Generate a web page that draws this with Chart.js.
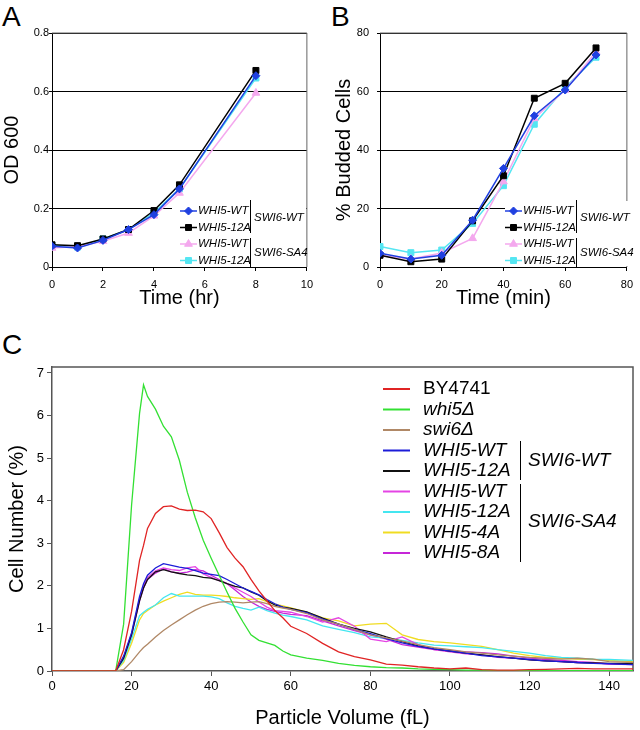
<!DOCTYPE html>
<html>
<head>
<meta charset="utf-8">
<script src="https://cdn.jsdelivr.net/npm/chart.js@4.4.0/dist/chart.umd.min.js"></script>
<style>
  body { margin: 0; background: #fff; width: 640px; height: 730px; position: relative; overflow: hidden;
         font-family: "Liberation Sans", Arial, sans-serif; }
  canvas { position: absolute; }
  .letra { position: absolute; font-size: 28px; line-height: 28px; color: #000; }
</style>
</head>
<body>
<div class="letra" style="left:2px;top:3px">A</div>
<div class="letra" style="left:331px;top:3px">B</div>
<div class="letra" style="left:2px;top:331px">C</div>
<canvas id="graficoA" width="320" height="310" style="left:0;top:0"></canvas>
<canvas id="graficoB" width="320" height="310" style="left:320px;top:0"></canvas>
<canvas id="graficoC" width="640" height="410" style="left:0;top:320px"></canvas>
<script>
// PAINEL A - OD 600
var tempoHoras = [0, 1, 2, 3, 4, 5, 8];
var odWT = [0.071, 0.065, 0.091, 0.128, 0.179, 0.267, 0.654];
var od12A = [0.076, 0.073, 0.096, 0.128, 0.193, 0.281, 0.672];
var odSA4WT = [0.065, 0.070, 0.088, 0.116, 0.175, 0.253, 0.595];
var odSA412A = [0.074, 0.068, 0.096, 0.128, 0.185, 0.267, 0.646];

// PAINEL B - % BUDDED
var tempoMin = [0, 10, 20, 30, 40, 50, 60, 70];
var budWT = [4.7, 2.7, 4, 16, 33.7, 51.7, 60.5, 72.5];
var bud12A = [4, 1.8, 2.7, 15.8, 31.2, 57.7, 62.8, 74.9];
var budSA4WT = [4, 2.7, 4.8, 9.8, 29.2, 50.8, 60.5, 73.6];
var budSA412A = [7, 4.9, 5.8, 14.9, 27.8, 48.8, 61.4, 71.7];

// PAINEL C - VOLUME (fL)
var volume = [0, 16, 18, 20, 22, 23, 24, 26, 28, 30, 32, 34, 36, 38, 40, 42, 44, 46, 48, 50, 52, 54, 56, 58, 60,
  64, 68, 72, 76, 80, 84, 88, 92, 96, 100, 104, 108, 112, 116, 120, 124, 128, 132, 136, 140, 146];
var by4741 = [0, 0, 0.5, 1.4, 2.6, 2.95, 3.35, 3.7, 3.86, 3.88, 3.8, 3.77, 3.78, 3.74, 3.58, 3.25, 2.9, 2.65, 2.45, 2.15, 1.88, 1.65, 1.42, 1.25, 1.05,
  0.88, 0.65, 0.45, 0.34, 0.26, 0.16, 0.14, 0.1, 0.07, 0.05, 0.07, 0.03, 0.02, 0.02, 0.03, 0.04, 0.05, 0.06, 0.05, 0.05, 0.05];
var whi5 = [0, 0, 1.1, 3.9, 6.05, 6.72, 6.45, 6.15, 5.75, 5.5, 4.95, 4.2, 3.6, 3.07, 2.65, 2.25, 1.85, 1.47, 1.15, 0.85, 0.72, 0.66, 0.6, 0.47, 0.38,
  0.3, 0.25, 0.18, 0.13, 0.1, 0.08, 0.07, 0.05, 0.04, 0.03, 0.02, 0.02, 0.01, 0.01, 0.01, 0.01, 0.01, 0.01, 0.01, 0.01, 0.01];
var swi6 = [0, 0, 0.03, 0.22, 0.45, 0.55, 0.63, 0.8, 0.95, 1.08, 1.2, 1.32, 1.43, 1.52, 1.58, 1.62, 1.63, 1.62, 1.6, 1.62, 1.63, 1.58, 1.52, 1.48, 1.45,
  1.35, 1.2, 1.1, 0.98, 0.85, 0.78, 0.7, 0.62, 0.55, 0.5, 0.45, 0.42, 0.38, 0.35, 0.32, 0.3, 0.28, 0.3, 0.28, 0.22, 0.2];
var wtWT = [0, 0, 0.35, 0.9, 1.75, 2.05, 2.25, 2.42, 2.52, 2.48, 2.44, 2.41, 2.36, 2.3, 2.27, 2.24, 2.15, 2.05, 1.95, 1.87, 1.79, 1.68, 1.58, 1.5, 1.45,
  1.37, 1.22, 1.1, 0.98, 0.88, 0.76, 0.66, 0.58, 0.52, 0.47, 0.42, 0.36, 0.33, 0.3, 0.27, 0.24, 0.22, 0.2, 0.18, 0.17, 0.15];
var wt12A = [0, 0, 0.3, 0.85, 1.65, 1.95, 2.15, 2.33, 2.38, 2.33, 2.29, 2.26, 2.24, 2.2, 2.18, 2.12, 2.05, 1.99, 1.95, 1.86, 1.78, 1.65, 1.55, 1.5, 1.47,
  1.39, 1.24, 1.1, 1.0, 0.92, 0.8, 0.69, 0.59, 0.52, 0.47, 0.42, 0.38, 0.34, 0.3, 0.26, 0.24, 0.22, 0.2, 0.19, 0.18, 0.17];
var sa4WT = [0, 0, 0.32, 0.88, 1.7, 2.0, 2.2, 2.35, 2.42, 2.38, 2.36, 2.42, 2.45, 2.28, 2.2, 2.12, 2.05, 1.95, 1.85, 1.75, 1.62, 1.5, 1.42, 1.4, 1.38,
  1.28, 1.15, 1.25, 1.05, 0.75, 0.69, 0.8, 0.62, 0.5, 0.45, 0.4, 0.38, 0.32, 0.3, 0.27, 0.24, 0.22, 0.2, 0.19, 0.17, 0.18];
var sa412A = [0, 0, 0.25, 0.75, 1.3, 1.38, 1.45, 1.55, 1.72, 1.82, 1.76, 1.76, 1.76, 1.76, 1.74, 1.7, 1.6, 1.52, 1.47, 1.43, 1.5, 1.42, 1.36, 1.31, 1.28,
  1.2, 1.06, 0.98, 0.9, 0.8, 0.77, 0.72, 0.66, 0.61, 0.59, 0.57, 0.55, 0.5, 0.46, 0.42, 0.36, 0.32, 0.3, 0.28, 0.27, 0.25];
var sa44A = [0, 0, 0.2, 0.65, 1.2, 1.35, 1.42, 1.55, 1.64, 1.72, 1.8, 1.85, 1.8, 1.78, 1.78, 1.77, 1.75, 1.72, 1.7, 1.68, 1.7, 1.63, 1.57, 1.53, 1.48,
  1.38, 1.25, 1.18, 1.06, 1.1, 1.12, 0.85, 0.74, 0.69, 0.66, 0.62, 0.58, 0.5, 0.42, 0.36, 0.32, 0.3, 0.28, 0.27, 0.25, 0.22];
var sa48A = [0, 0, 0.3, 0.85, 1.65, 1.95, 2.15, 2.3, 2.4, 2.33, 2.3, 2.32, 2.38, 2.35, 2.25, 2.15, 2.05, 1.9, 1.75, 1.62, 1.52, 1.45, 1.4, 1.36, 1.33,
  1.3, 1.18, 1.06, 0.95, 0.85, 0.75, 0.62, 0.56, 0.5, 0.47, 0.45, 0.43, 0.4, 0.35, 0.3, 0.27, 0.25, 0.22, 0.2, 0.16, 0.15];

var fonte = '"Liberation Sans", Arial, sans-serif';
Chart.defaults.font.family = fonte;
Chart.defaults.color = '#000';

function pares(xs, ys) {
  var lista = [];
  for (var i = 0; i < xs.length; i++) lista.push({ x: xs[i], y: ys[i] });
  return lista;
}

// BORDA DE CIMA E DA DIREITA DA AREA DO GRAFICO
var moldura = {
  id: 'moldura',
  beforeDatasetsDraw: function (chart, args, op) {
    var a = chart.chartArea, ctx = chart.ctx;
    ctx.save();
    ctx.strokeStyle = op.cor;
    ctx.lineWidth = op.largura;
    ctx.beginPath();
    ctx.moveTo(a.left, a.top);
    ctx.lineTo(a.right, a.top);
    ctx.lineTo(a.right, a.bottom);
    ctx.stroke();
    ctx.restore();
  }
};

// LEGENDA COM BARRAS DE GRUPO (SWI6-WT / SWI6-SA4)
var legendaAgrupada = {
  id: 'legendaAgrupada',
  afterDatasetsDraw: function (chart, args, op) {
    var ctx = chart.ctx;
    var sets = chart.data.datasets;
    ctx.save();
    if (op.fundo) {
      ctx.fillStyle = '#fff';
      ctx.fillRect(op.fundo[0], op.fundo[1], op.fundo[2], op.fundo[3]);
    }
    ctx.textBaseline = 'middle';
    ctx.textAlign = 'left';
    for (var i = 0; i < sets.length; i++) {
      var ds = sets[i];
      var y = op.y0 + i * op.passo;
      ctx.strokeStyle = ds.borderColor;
      ctx.lineWidth = op.espessura;
      ctx.beginPath();
      ctx.moveTo(op.linhaX, y);
      ctx.lineTo(op.linhaX + op.linhaLarg, y);
      ctx.stroke();
      if (op.marcador) {
        ctx.fillStyle = ds.backgroundColor;
        ctx.lineWidth = 1;
        Chart.helpers.drawPoint(ctx, { pointStyle: ds.pointStyle, radius: ds.pointRadius, rotation: 0, borderWidth: 1 },
          op.linhaX + op.linhaLarg / 2, y);
      }
      ctx.fillStyle = '#000';
      ctx.font = (op.retos.indexOf(ds.label) >= 0 ? '' : 'italic ') + op.tamanho + 'px ' + fonte;
      ctx.fillText(ds.label, op.textoX, y);
    }
    ctx.font = 'italic ' + op.tamanho + 'px ' + fonte;
    ctx.strokeStyle = '#000';
    ctx.lineWidth = 1;
    op.grupos.forEach(function (g) {
      ctx.beginPath();
      ctx.moveTo(op.barraX + 0.5, g.de);
      ctx.lineTo(op.barraX + 0.5, g.ate);
      ctx.stroke();
      ctx.fillText(g.nome, op.barraX + op.folga, g.meio);
    });
    ctx.restore();
  }
};

function serieMarcada(label, xs, ys, cor, estilo, raio) {
  return {
    label: label, data: pares(xs, ys), borderColor: cor, backgroundColor: cor,
    pointStyle: estilo, pointRadius: raio, pointBorderWidth: 1, borderWidth: 1.5, tension: 0
  };
}

function eixosExcel(xMax, xPasso, yMax, yPasso, tituloX, tituloY, larguraY, padY, padTituloY) {
  return {
    x: {
      type: 'linear', min: 0, max: xMax,
      ticks: { stepSize: xPasso, font: { size: 11 }, padding: 7 },
      grid: { drawOnChartArea: false, tickLength: 4, color: '#000' },
      border: { color: '#000' },
      title: { display: true, text: tituloX, font: { size: 20 }, padding: 0 },
      afterFit: function (s) { s.height = 43; }
    },
    y: {
      min: 0, max: yMax,
      ticks: { stepSize: yPasso, font: { size: 11 }, padding: padY },
      grid: { color: '#000', tickLength: 3 },
      border: { color: '#000' },
      title: { display: true, text: tituloY, font: { size: 20 }, padding: { top: padTituloY } },
      afterFit: function (s) { s.width = larguraY; }
    }
  };
}

var gruposAB = [
  { de: 200, ate: 233, meio: 218, nome: 'SWI6-WT' },
  { de: 238, ate: 267, meio: 253, nome: 'SWI6-SA4' }
];

new Chart(document.getElementById('graficoA'), {
  type: 'line',
  data: {
    datasets: [
      serieMarcada('WHI5-WT', tempoHoras, odWT, '#2040e0', 'rectRot', 4),
      serieMarcada('WHI5-12A', tempoHoras, od12A, '#000000', 'rect', 4.2),
      serieMarcada('WHI5-WT', tempoHoras, odSA4WT, '#f4a8ee', 'triangle', 4.5),
      serieMarcada('WHI5-12A', tempoHoras, odSA412A, '#55e6f2', 'rect', 4.2)
    ]
  },
  options: {
    responsive: false, animation: false,
    layout: { padding: { top: 33, right: 13, left: 0, bottom: 0 } },
    scales: eixosExcel(10, 2, 0.8, 0.2, 'Time (hr)', 'OD 600', 52, 0, 0),
    plugins: {
      legend: { display: false }, tooltip: { enabled: false },
      moldura: { cor: '#666', largura: 1 },
      legendaAgrupada: {
        fundo: [172, 201, 134, 65], linhaX: 180, linhaLarg: 17, textoX: 198, y0: 211, passo: 16.5,
        espessura: 1.5, marcador: true, tamanho: 11.5, retos: [], barraX: 250, folga: 4, grupos: gruposAB
      }
    }
  },
  plugins: [moldura, legendaAgrupada]
});

new Chart(document.getElementById('graficoB'), {
  type: 'line',
  data: {
    datasets: [
      serieMarcada('WHI5-WT', tempoMin, budWT, '#2040e0', 'rectRot', 4),
      serieMarcada('WHI5-12A', tempoMin, bud12A, '#000000', 'rect', 4.2),
      serieMarcada('WHI5-WT', tempoMin, budSA4WT, '#f4a8ee', 'triangle', 4.5),
      serieMarcada('WHI5-12A', tempoMin, budSA412A, '#55e6f2', 'rect', 4.2)
    ]
  },
  options: {
    responsive: false, animation: false,
    layout: { padding: { top: 33, right: 7, left: 0, bottom: 0 } },
    scales: eixosExcel(80, 20, 80, 20, 'Time (min)', '% Budded Cells', 60, 8, 12),
    plugins: {
      legend: { display: false }, tooltip: { enabled: false },
      moldura: { cor: '#666', largura: 1 },
      legendaAgrupada: {
        fundo: [185, 201, 127, 65], linhaX: 185, linhaLarg: 17, textoX: 203, y0: 211, passo: 16.5,
        espessura: 1.5, marcador: true, tamanho: 11.5, retos: [], barraX: 256, folga: 4, grupos: gruposAB
      }
    }
  },
  plugins: [moldura, legendaAgrupada]
});

function serieVolume(label, ys, cor) {
  return { label: label, data: pares(volume, ys), borderColor: cor, backgroundColor: cor,
           borderWidth: 1.3, pointRadius: 0, tension: 0 };
}

new Chart(document.getElementById('graficoC'), {
  type: 'line',
  data: {
    datasets: [
      serieVolume('BY4741', by4741, '#e02424'),
      serieVolume('whi5Δ', whi5, '#33e033'),
      serieVolume('swi6Δ', swi6, '#b08866'),
      serieVolume('WHI5-WT', wtWT, '#1c1cd8'),
      serieVolume('WHI5-12A', wt12A, '#111111'),
      serieVolume('WHI5-WT', sa4WT, '#e444e4'),
      serieVolume('WHI5-12A', sa412A, '#44e6f0'),
      serieVolume('WHI5-4A', sa44A, '#f0dc22'),
      serieVolume('WHI5-8A', sa48A, '#c626d8')
    ]
  },
  options: {
    responsive: false, animation: false,
    layout: { padding: { top: 47, right: 7, left: 0, bottom: 0 } },
    scales: {
      x: {
        type: 'linear', min: 0, max: 146,
        ticks: { stepSize: 20, includeBounds: false, font: { size: 13 }, padding: 3 },
        grid: { drawOnChartArea: false, tickLength: 5, color: '#555' },
        border: { color: '#555', width: 1.5 },
        title: { display: true, text: 'Particle Volume (fL)', font: { size: 20 }, padding: 0 },
        afterFit: function (s) { s.height = 59; }
      },
      y: {
        min: 0, max: 7.14,
        ticks: { stepSize: 1, includeBounds: false, font: { size: 13 }, padding: 3 },
        grid: { drawOnChartArea: false, tickLength: 5, color: '#555' },
        border: { color: '#555', width: 1.5 },
        title: { display: true, text: 'Cell Number (%)', font: { size: 20 }, padding: { top: 5 } },
        afterFit: function (s) { s.width = 52; }
      }
    },
    plugins: {
      legend: { display: false }, tooltip: { enabled: false },
      moldura: { cor: '#555', largura: 1.5 },
      legendaAgrupada: {
        linhaX: 383, linhaLarg: 27, textoX: 423, y0: 69, passo: 20.5,
        espessura: 2, marcador: false, tamanho: 19, retos: ['BY4741'], barraX: 520, folga: 8,
        grupos: [
          { de: 121, ate: 160, meio: 141, nome: 'SWI6-WT' },
          { de: 164, ate: 242, meio: 202, nome: 'SWI6-SA4' }
        ]
      }
    }
  },
  plugins: [moldura, legendaAgrupada]
});
</script>
</body>
</html>
